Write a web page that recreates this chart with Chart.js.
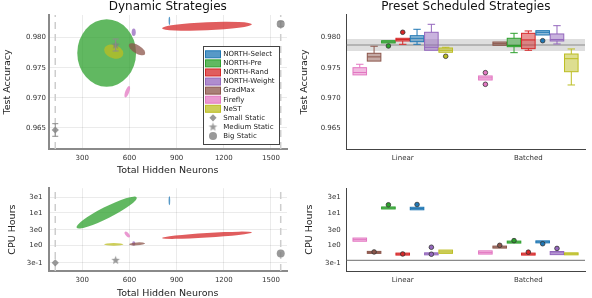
<!DOCTYPE html>
<html>
<head>
<meta charset="utf-8">
<script src="https://cdn.jsdelivr.net/npm/chart.js@4.4.0/dist/chart.umd.min.js"></script>
<style>
  body { margin: 0; background: #fff; }
  canvas { position: absolute; }
</style>
</head>
<body>
<canvas id="tl" width="296" height="178" style="left:0;top:0"></canvas>
<canvas id="tr" width="296" height="178" style="left:296px;top:0"></canvas>
<canvas id="bl" width="296" height="120" style="left:0;top:178px"></canvas>
<canvas id="br" width="296" height="120" style="left:296px;top:178px"></canvas>
<script>
// methods, in legend order
const methods = ['NORTH-Select', 'NORTH-Pre', 'NORTH-Rand', 'NORTH-Weight', 'GradMax', 'Firefly', 'NeST'];
const colors = ['#1f77b4', '#2ca02c', '#d62728', '#9467bd', '#8c564b', '#e377c2', '#bcbd22'];
// box plots are sorted alphabetically
const boxOrder = ['Firefly', 'GradMax', 'NORTH-Pre', 'NORTH-Rand', 'NORTH-Select', 'NORTH-Weight', 'NeST'];
const schedules = ['Linear', 'Batched'];

const staticLabels = ['Small Static', 'Medium Static', 'Big Static'];
const staticNeurons = [128, 512, 1562];
const staticAcc = [0.96462, 0.97878, 0.98228];
const staticAccErr = [0.00105, 0.001, 0.0004];
const staticHours = [0.298, 0.356, 0.577];

// dynamic strategies: mean and spread ellipse (two semi-axis vectors)
const neuronMean = [854, 455, 1093, 627, 648, 586, 500];
const accMean = [0.98281, 0.97745, 0.9819, 0.98092, 0.97807, 0.971, 0.97767];
const accSpreadU = [[0, 0.00069], [187, 0], [286, 0.00033], [13, 0], [51, -0.00083], [13.7, 0.00094], [61, -0.0003]];
const accSpreadV = [[5, 0], [0, 0.00562], [0, 0.00068], [0, 0.00063], [-13.6, -0.00057], [11.9, -0.00012], [0, 0.00115]];
const hoursMean = [23.4, 10.2, 2.07, 1.16, 1.13, 2.18, 1.09];
// spread in (neurons, decades of hours)
const hoursSpreadU = [[0, 0.134], [191, 0.464], [286, 0.086], [10, 0], [51, 0.014], [14.6, -0.082], [61.5, 0]];
const hoursSpreadV = [[5, 0], [18.1, -0.152], [0, 0.07], [0, 0.07], [0, 0.045], [8.9, 0.0325], [0, 0.04]];

// preset schedules: [low whisker, q1, median, q3, high whisker] in boxOrder
const accBoxLinear = [
  [0.9738, 0.9738, 0.9742, 0.9750, 0.97557],
  [0.9761, 0.9761, 0.9768, 0.9774, 0.97857],
  [0.97912, 0.97912, 0.9793, 0.9795, 0.9795],
  [0.9789, 0.97945, 0.9797, 0.9799, 0.9799],
  [0.9789, 0.97933, 0.9799, 0.98033, 0.9814],
  [0.9779, 0.9779, 0.9784, 0.9809, 0.98223],
  [0.97757, 0.97757, 0.9779, 0.97828, 0.9784]
];
const accOutLinear = [[], [], [0.97862], [0.9809], [], [], [0.9769]];
const accBoxBatched = [
  [0.97295, 0.97295, 0.9733, 0.97362, 0.97362],
  [0.97873, 0.97873, 0.979, 0.97928, 0.97928],
  [0.9775, 0.9785, 0.9787, 0.9799, 0.98073],
  [0.9779, 0.97817, 0.97962, 0.98073, 0.98112],
  [0.98045, 0.98045, 0.9809, 0.98117, 0.98117],
  [0.97895, 0.97945, 0.9797, 0.98062, 0.982],
  [0.97212, 0.97433, 0.9765, 0.97728, 0.97812]
];
const accOutBatched = [[0.97417, 0.97223], [], [], [], [0.9795], [], []];

const hoursBoxLinear = [
  [1.36, 1.36, 1.52, 1.7, 1.7],
  [0.6, 0.6, 0.62, 0.65, 0.65],
  [13.6, 13.6, 14.1, 14.6, 14.6],
  [0.53, 0.53, 0.55, 0.57, 0.57],
  [12.4, 12.4, 13.5, 14.8, 14.8],
  [0.545, 0.545, 0.56, 0.575, 0.575],
  [0.58, 0.58, 0.64, 0.73, 0.73]
];
const hoursOutLinear = [[], [0.64], [17.6], [0.555], [18], [0.89, 0.545], []];
const hoursBoxBatched = [
  [0.55, 0.55, 0.61, 0.69, 0.69],
  [0.84, 0.84, 0.9, 0.95, 0.95],
  [1.2, 1.2, 1.28, 1.36, 1.36],
  [0.52, 0.52, 0.55, 0.59, 0.59],
  [1.24, 1.24, 1.3, 1.39, 1.39],
  [0.53, 0.53, 0.6, 0.66, 0.66],
  [0.53, 0.53, 0.56, 0.6, 0.6]
];
const hoursOutBatched = [[], [1.02], [1.42], [0.63], [1.14], [0.82], []];

const neuronTicks = [300, 600, 900, 1200, 1500];
const accTicks = [0.965, 0.970, 0.975, 0.980];
const hoursTicks = [0.3, 1, 3, 10, 30];

Chart.defaults.font.family = '"DejaVu Sans", sans-serif';
Chart.defaults.font.size = 7;
Chart.defaults.color = '#333';
Chart.defaults.animation = false;
Chart.defaults.plugins.legend.display = false;
Chart.defaults.plugins.tooltip.enabled = false;

function fade(hex, a) {
  const n = parseInt(hex.slice(1), 16);
  return `rgba(${n >> 16},${(n >> 8) & 255},${n & 255},${a})`;
}

function starPoint(r, color) {
  const c = document.createElement('canvas');
  const s = Math.ceil(2 * r + 2);
  c.width = c.height = s;
  const g = c.getContext('2d');
  g.fillStyle = color;
  g.beginPath();
  for (let i = 0; i < 10; i++) {
    const a = -Math.PI / 2 + i * Math.PI / 5, rr = i % 2 ? r * 0.42 : r;
    g.lineTo(s / 2 + rr * Math.cos(a), s / 2 + rr * Math.sin(a));
  }
  g.closePath();
  g.fill();
  return c;
}

const grey = 'rgba(127,127,127,0.8)';
const staticStyles = ['rectRot', starPoint(4.5, grey), 'circle'];
const staticRadius = [3.6, 4.5, 4];

function hoursLabel(v) {
  const e = Math.floor(Math.log10(v) + 1e-9);
  return Math.round(v / Math.pow(10, e)) + 'e' + e;
}

function staticSets(values) {
  return staticLabels.map((s, j) => ({
    label: s,
    data: [{x: staticNeurons[j], y: values[j]}],
    pointStyle: staticStyles[j],
    pointRadius: staticRadius[j],
    backgroundColor: grey,
    borderColor: grey,
    borderWidth: 0
  }));
}

// covariance-like ellipses drawn through the scales
function ellipsePlugin(yMean, spreadU, spreadV, logY) {
  return {
    id: 'ellipses',
    beforeDatasetsDraw(chart) {
      const {ctx, chartArea: a, scales: {x, y}} = chart;
      const fromY = v => logY ? Math.log10(v) : v;
      const toY = v => logY ? Math.pow(10, v) : v;
      ctx.save();
      ctx.beginPath();
      ctx.rect(a.left, a.top, a.width, a.height);
      ctx.clip();
      methods.forEach((m, i) => {
        const c = fromY(yMean[i]);
        const px = x.getPixelForValue(neuronMean[i]);
        const py = y.getPixelForValue(yMean[i]);
        const u = spreadU[i], v = spreadV[i];
        const ux = x.getPixelForValue(neuronMean[i] + u[0]) - px;
        const uy = y.getPixelForValue(toY(c + u[1])) - py;
        const vx = x.getPixelForValue(neuronMean[i] + v[0]) - px;
        const vy = y.getPixelForValue(toY(c + v[1])) - py;
        ctx.save();
        ctx.transform(ux, uy, vx, vy, px, py);
        ctx.beginPath();
        ctx.arc(0, 0, 1, 0, 2 * Math.PI);
        ctx.restore();
        ctx.fillStyle = fade(colors[i], 0.75);
        ctx.fill();
      });
      ctx.restore();
    }
  };
}

const staticLinesPlugin = {
  id: 'staticLines',
  beforeDatasetsDraw(chart) {
    const {ctx, chartArea: a, scales: {x}} = chart;
    ctx.save();
    ctx.strokeStyle = '#cdcdcd';
    ctx.lineWidth = 1.5;
    ctx.setLineDash([7, 5]);
    [0, 2].forEach(j => {
      const px = x.getPixelForValue(staticNeurons[j]);
      ctx.beginPath();
      ctx.moveTo(px, a.bottom);
      ctx.lineTo(px, a.top);
      ctx.stroke();
    });
    ctx.restore();
  }
};

const staticErrPlugin = {
  id: 'staticErr',
  afterDatasetsDraw(chart) {
    const {ctx, scales: {x, y}} = chart;
    ctx.save();
    ctx.strokeStyle = '#8c8c8c';
    ctx.lineWidth = 1;
    staticNeurons.forEach((n, j) => {
      const px = x.getPixelForValue(n);
      const t = y.getPixelForValue(staticAcc[j] + staticAccErr[j]);
      const b = y.getPixelForValue(staticAcc[j] - staticAccErr[j]);
      ctx.beginPath();
      ctx.moveTo(px, t); ctx.lineTo(px, b);
      ctx.moveTo(px - 3, t); ctx.lineTo(px + 3, t);
      ctx.moveTo(px - 3, b); ctx.lineTo(px + 3, b);
      ctx.stroke();
    });
    ctx.restore();
  }
};

const legendPlugin = {
  id: 'insideLegend',
  afterDraw(chart) {
    const {ctx, chartArea: a} = chart;
    const w = 77, h = 99, row = 9.08;
    const x0 = a.right - 7 - w, y0 = a.bottom - 4 - h;
    ctx.save();
    ctx.fillStyle = '#fff';
    ctx.fillRect(x0, y0, w, h);
    ctx.strokeStyle = '#444';
    ctx.lineWidth = 1;
    ctx.strokeRect(x0 + 0.5, y0 + 0.5, w - 1, h - 1);
    ctx.font = '7px "DejaVu Sans", sans-serif';
    ctx.textBaseline = 'middle';
    methods.forEach((m, i) => {
      const cy = y0 + 8.3 + i * row;
      ctx.fillStyle = fade(colors[i], 0.75);
      ctx.fillRect(x0 + 2.5, cy - 3.5, 15, 7);
      ctx.strokeStyle = colors[i];
      ctx.strokeRect(x0 + 2.5, cy - 3.5, 15, 7);
      ctx.fillStyle = '#222';
      ctx.fillText(m, x0 + 20.3, cy);
    });
    staticLabels.forEach((s, j) => {
      const cy = y0 + 8.3 + (methods.length + j) * row;
      ctx.fillStyle = grey;
      ctx.strokeStyle = grey;
      Chart.helpers.drawPoint(ctx, {pointStyle: staticStyles[j], radius: staticRadius[j], rotation: 0, borderWidth: 0}, x0 + 10, cy);
      ctx.fillStyle = '#222';
      ctx.fillText(s, x0 + 20.3, cy);
    });
    ctx.restore();
  }
};

const boxStep = 0.114, boxHalf = 0.054;
function boxX(s, k) { return s + 1 + (k - 3) * boxStep; }

function refPlugin(value, err) {
  return {
    id: 'staticRef',
    beforeDatasetsDraw(chart) {
      const {ctx, chartArea: a, scales: {y}} = chart;
      ctx.save();
      if (err) {
        const t = y.getPixelForValue(value + err), b = y.getPixelForValue(value - err);
        ctx.fillStyle = 'rgba(0,0,0,0.13)';
        ctx.fillRect(a.left, t, a.width, b - t);
      }
      const py = y.getPixelForValue(value);
      ctx.strokeStyle = '#8a8a8a';
      ctx.lineWidth = 1.2;
      ctx.beginPath();
      ctx.moveTo(a.left, py);
      ctx.lineTo(a.right, py);
      ctx.stroke();
      ctx.restore();
    }
  };
}

function boxPlugin(statsLinear, statsBatched) {
  return {
    id: 'boxes',
    beforeDatasetsDraw(chart) {
      const {ctx, scales: {x, y}} = chart;
      ctx.save();
      ctx.lineWidth = 1;
      [statsLinear, statsBatched].forEach((stats, s) => stats.forEach((st, k) => {
        const c = colors[methods.indexOf(boxOrder[k])];
        const xc = x.getPixelForValue(boxX(s, k));
        const hw = x.getPixelForValue(boxX(s, k) + boxHalf) - xc;
        const [lo, q1, md, q3, hi] = st.map(v => y.getPixelForValue(v));
        ctx.strokeStyle = c;
        ctx.beginPath();
        if (q3 - hi > 0.5) {
          ctx.moveTo(xc, q3); ctx.lineTo(xc, hi);
          ctx.moveTo(xc - hw * 0.55, hi); ctx.lineTo(xc + hw * 0.55, hi);
        }
        if (lo - q1 > 0.5) {
          ctx.moveTo(xc, q1); ctx.lineTo(xc, lo);
          ctx.moveTo(xc - hw * 0.55, lo); ctx.lineTo(xc + hw * 0.55, lo);
        }
        ctx.stroke();
        const top = Math.min(q3, md - 1), bot = Math.max(q1, md + 1);
        ctx.fillStyle = fade(c, 0.5);
        ctx.fillRect(xc - hw, top, 2 * hw, bot - top);
        ctx.strokeRect(xc - hw, top, 2 * hw, bot - top);
        ctx.beginPath();
        ctx.moveTo(xc - hw, md); ctx.lineTo(xc + hw, md);
        ctx.stroke();
      }));
      ctx.restore();
    }
  };
}

function outlierSets(outLinear, outBatched) {
  return boxOrder.map((m, k) => {
    const pts = [];
    [outLinear, outBatched].forEach((outs, s) => outs[k].forEach(v => pts.push({x: boxX(s, k), y: v})));
    return {
      label: m,
      data: pts,
      backgroundColor: colors[methods.indexOf(m)],
      borderColor: '#333',
      borderWidth: 0.8,
      pointRadius: 2.3
    };
  });
}

const axisTitleFont = {size: 9.5, lineHeight: 1};
const leftGrid = {color: 'rgba(0,0,0,0.08)', drawTicks: false};
const leftBorder = {color: '#8a8a8a', width: 2};
const rightGrid = {color: 'rgba(0,0,0,0)', drawTicks: false};
const rightBorder = {color: '#444', width: 1};

function neuronAxis(height, titlePad) {
  return {
    type: 'linear', min: 85, max: 1602,
    afterBuildTicks: s => { s.ticks = neuronTicks.map(v => ({value: v})); },
    afterFit: s => { s.height = height; },
    ticks: {padding: 5, autoSkip: false, maxRotation: 0, callback: v => String(v)},
    grid: leftGrid, border: leftBorder,
    title: {display: true, text: 'Total Hidden Neurons', font: axisTitleFont, color: '#222', padding: {top: 0, bottom: titlePad}}
  };
}

function scheduleAxis(height) {
  return {
    type: 'linear', min: 0.554, max: 2.451,
    afterBuildTicks: s => { s.ticks = schedules.map((n, i) => ({value: i + 1})); },
    afterFit: s => { s.height = height; },
    ticks: {padding: 5, autoSkip: false, maxRotation: 0, callback: v => schedules[v - 1] || ''},
    grid: rightGrid, border: rightBorder
  };
}

function accAxis(width, titlePad, tickPad, grid, border) {
  return {
    type: 'linear', min: 0.96145, max: 0.98378,
    afterBuildTicks: s => { s.ticks = accTicks.map(v => ({value: v})); },
    afterFit: s => { s.width = width; },
    ticks: {padding: tickPad, callback: v => v.toFixed(3)},
    grid: grid, border: border,
    title: {display: true, text: 'Test Accuracy', font: axisTitleFont, color: '#222', padding: {top: titlePad, bottom: 0}}
  };
}

function hoursAxis(width, titlePad, tickPad, grid, border) {
  return {
    type: 'logarithmic', min: 0.1675, max: 56.6,
    afterBuildTicks: s => { s.ticks = hoursTicks.map(v => ({value: v})); },
    afterFit: s => { s.width = width; },
    ticks: {padding: tickPad, callback: v => hoursLabel(v)},
    grid: grid, border: border,
    title: {display: true, text: 'CPU Hours', font: axisTitleFont, color: '#222', padding: {top: titlePad, bottom: 0}}
  };
}

function panelTitle(text) {
  return {display: true, text: text, font: {size: 12, weight: 'normal'}, color: '#111', padding: {top: 0, bottom: 0.6}, fullSize: false};
}

new Chart(document.getElementById('tl'), {
  type: 'scatter',
  data: {datasets: staticSets(staticAcc)},
  options: {
    responsive: false,
    layout: {padding: {right: 9}},
    plugins: {title: panelTitle('Dynamic Strategies')},
    scales: {x: neuronAxis(29, 2.5), y: accAxis(48.5, 2.75, 2.5, leftGrid, leftBorder)}
  },
  plugins: [staticLinesPlugin, ellipsePlugin(accMean, accSpreadU, accSpreadV, false), staticErrPlugin, legendPlugin]
});

new Chart(document.getElementById('bl'), {
  type: 'scatter',
  data: {datasets: staticSets(staticHours)},
  options: {
    responsive: false,
    layout: {padding: {right: 9, top: 5}},
    scales: {x: neuronAxis(27, 0), y: hoursAxis(48.5, 7.75, 6, leftGrid, leftBorder)}
  },
  plugins: [staticLinesPlugin, ellipsePlugin(hoursMean, hoursSpreadU, hoursSpreadV, true)]
});

new Chart(document.getElementById('tr'), {
  type: 'scatter',
  data: {datasets: outlierSets(accOutLinear, accOutBatched)},
  options: {
    responsive: false,
    layout: {padding: {right: 7}},
    plugins: {title: panelTitle('Preset Scheduled Strategies')},
    scales: {x: scheduleAxis(29), y: accAxis(50.7, 4.25, 6, rightGrid, rightBorder)}
  },
  plugins: [refPlugin(staticAcc[1], staticAccErr[1]), boxPlugin(accBoxLinear, accBoxBatched)]
});

new Chart(document.getElementById('br'), {
  type: 'scatter',
  data: {datasets: outlierSets(hoursOutLinear, hoursOutBatched)},
  options: {
    responsive: false,
    layout: {padding: {right: 7, top: 5}},
    scales: {x: scheduleAxis(27), y: hoursAxis(50.7, 9.25, 6, rightGrid, rightBorder)}
  },
  plugins: [refPlugin(staticHours[1], 0), boxPlugin(hoursBoxLinear, hoursBoxBatched)]
});
</script>
</body>
</html>
